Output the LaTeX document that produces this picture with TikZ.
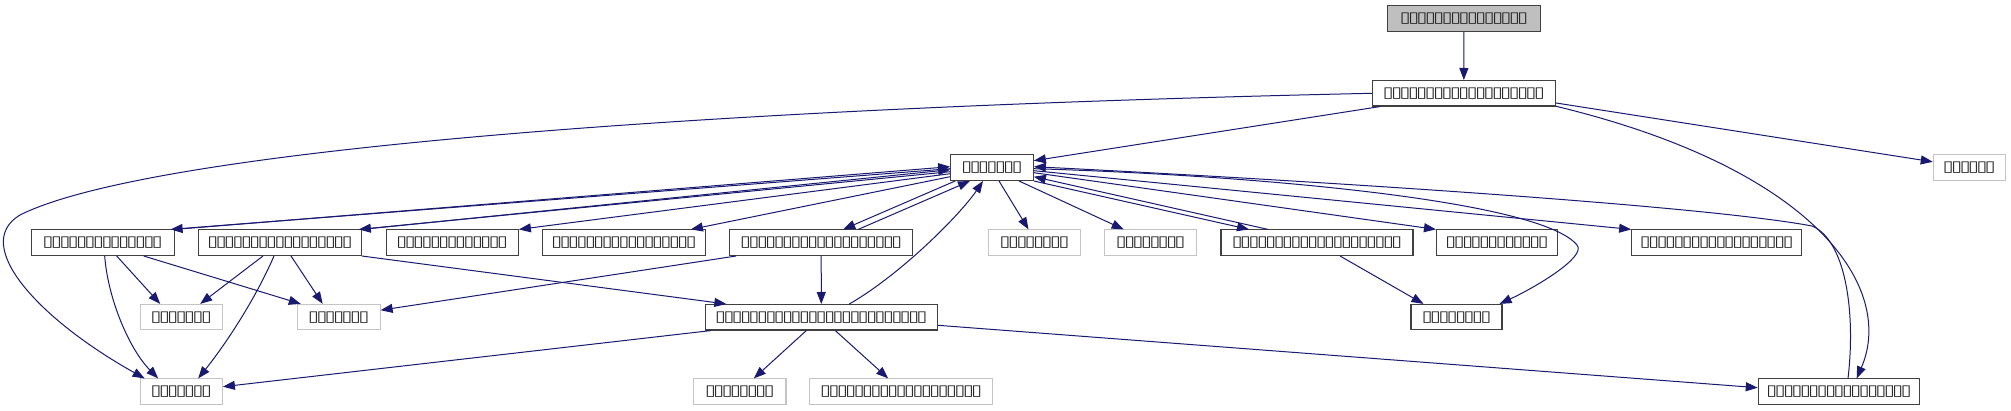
\documentclass[tikz,border=0pt]{standalone}
\usepackage{fontspec}
\usetikzlibrary{arrows.meta}
\newfontfamily\tofufont{DejaVu Sans}
\definecolor{edgecol}{HTML}{191970}
\definecolor{gryfill}{HTML}{BFBFBF}
\definecolor{gryline}{HTML}{C4C4C4}
\definecolor{boxline}{HTML}{404040}
\catcode`\▯=\active
\def▯{\makebox[8.4pt]{\scalebox{1.3}[1]{\tofufont\fontsize{15pt}{15pt}\selectfont\char"25AF}}}
\tikzset{
  nb/.style={draw=boxline, line width=1.1pt, fill=white, rectangle, minimum height=25.5pt, inner sep=0pt, text=black!85},
  ng/.style={nb, draw=gryline},
  edge/.style={draw=edgecol, line width=1pt, -{Triangle[length=12pt,width=9pt]}},
}
\begin{document}
\begin{tikzpicture}[x=1pt,y=-1pt]
\useasboundingbox (0,0) rectangle (2011,411);
% nodes
\node[nb, fill=gryfill, minimum width=152.6pt] (top) at (1464,18.5) {▯▯▯▯▯▯▯▯▯▯▯▯▯▯▯};
\node[nb, minimum width=183pt] (N2) at (1463.8,93.3) {▯▯▯▯▯▯▯▯▯▯▯▯▯▯▯▯▯▯▯};
\node[nb, minimum width=82.6pt] (hub) at (992,167.7) {▯▯▯▯▯▯▯};
\node[ng, minimum width=72pt] (R1) at (1969.3,167.6) {▯▯▯▯▯▯};
\node[nb, minimum width=142.7pt] (A) at (102.7,242.7) {▯▯▯▯▯▯▯▯▯▯▯▯▯▯};
\node[nb, minimum width=162.6pt] (B) at (280,242.7) {▯▯▯▯▯▯▯▯▯▯▯▯▯▯▯▯▯};
\node[nb, minimum width=132.3pt] (C) at (452.2,242.7) {▯▯▯▯▯▯▯▯▯▯▯▯▯};
\node[nb, minimum width=162.6pt] (D) at (624,242.7) {▯▯▯▯▯▯▯▯▯▯▯▯▯▯▯▯▯};
\node[nb, minimum width=183pt] (E) at (821.2,242.7) {▯▯▯▯▯▯▯▯▯▯▯▯▯▯▯▯▯▯▯};
\node[ng, minimum width=92pt] (F) at (1034.5,242.7) {▯▯▯▯▯▯▯▯};
\node[ng, minimum width=92pt] (G) at (1150.7,242.7) {▯▯▯▯▯▯▯▯};
\node[nb, minimum width=192pt] (H) at (1317,242.7) {▯▯▯▯▯▯▯▯▯▯▯▯▯▯▯▯▯▯▯▯};
\node[nb, minimum width=121pt] (J) at (1497,242.7) {▯▯▯▯▯▯▯▯▯▯▯▯};
\node[nb, minimum width=170pt] (I) at (1716.7,242.7) {▯▯▯▯▯▯▯▯▯▯▯▯▯▯▯▯▯▯};
\node[ng, minimum width=82.3pt] (G3L) at (181.2,317.2) {▯▯▯▯▯▯▯};
\node[ng, minimum width=82.7pt] (G3R) at (338.7,317.2) {▯▯▯▯▯▯▯};
\node[nb, minimum width=232pt] (M) at (821.3,317.3) {▯▯▯▯▯▯▯▯▯▯▯▯▯▯▯▯▯▯▯▯▯▯▯▯▯};
\node[nb, minimum width=91pt] (K) at (1456.5,317.2) {▯▯▯▯▯▯▯▯};
\node[ng, minimum width=82.3pt] (G4L) at (181.2,391.7) {▯▯▯▯▯▯▯};
\node[ng, minimum width=92.3pt] (G4a) at (739.8,391.7) {▯▯▯▯▯▯▯▯};
\node[ng, minimum width=183pt] (G4b) at (901.2,391.7) {▯▯▯▯▯▯▯▯▯▯▯▯▯▯▯▯▯▯▯};
\node[nb, minimum width=161.4pt] (L) at (1839,391.7) {▯▯▯▯▯▯▯▯▯▯▯▯▯▯▯▯▯};
% edges
\draw[edge] (top) -- (N2);
\draw[edge] (N2.west) .. controls (700,108) and (150,150) .. (20,215) .. controls (-30,245) and (40,320) .. (G4L.160);
\draw[edge] (N2.189) -- ([yshift=7pt]hub.east);
\draw[edge] (N2.-6) -- (R1.171);
\draw[edge] (N2.-8) .. controls (1820,170) and (1895,290) .. (L.37);
\draw[edge] ([xshift=9pt]L.north) .. controls (1856,310) and (1845,240) .. (1812,226) .. controls (1700,205) and (1300,180) .. ([yshift=1pt]hub.east);
\draw[edge] (A.north east) -- ([yshift=1pt]hub.west);
\draw[edge] ([yshift=-1pt]hub.west) -- ([xshift=-4pt]A.north east);
\draw[edge] (B.north east) -- ([yshift=-2pt]hub.west);
\draw[edge] ([yshift=-4pt]hub.west) -- ([xshift=-3pt]B.north east);
\draw[edge] ([yshift=-6pt]hub.west) -- (C.north east);
\draw[edge] ([yshift=-9pt]hub.west) -- ([xshift=-15pt]D.north east);
\draw[edge] ([xshift=5pt]hub.south west) -- ([xshift=22pt]E.north);
\draw[edge] ([xshift=37pt]E.north) -- ([xshift=-22pt]hub.south);
\draw[edge] ([xshift=28pt]M.north) .. controls (900,275) and (960,215) .. ([xshift=-9pt]hub.south);
\draw[edge] ([xshift=7pt]hub.south) -- ([xshift=-6pt]F.north);
\draw[edge] ([xshift=27pt]hub.south) -- ([xshift=-27pt]G.north);
\draw[edge] (hub.south east) -- ([xshift=-68pt]H.north);
\draw[edge] ([xshift=-49pt]H.north) -- ([yshift=-9pt]hub.east);
\draw[edge] ([yshift=-5pt]hub.east) -- (J.north west);
\draw[edge] ([yshift=-3pt]hub.east) -- (I.north west);
\draw[edge] ([yshift=-1pt]hub.east) .. controls (1250,175) and (1540,200) .. (1577,245) .. controls (1587,257) and (1534,288) .. ([xshift=-3pt]K.north east);
\draw[edge] ([xshift=23pt]H.south) -- ([xshift=-33pt]K.north);
\draw[edge] (E) -- (M);
\draw[edge] ([yshift=-8pt]M.east) -- ([yshift=4pt]L.west);
\draw[edge] ([xshift=6pt]M.south west) -- ([yshift=5pt]G4L.east);
\draw[edge] ([xshift=-15pt]M.south) -- ([xshift=14pt]G4a.north);
\draw[edge] ([xshift=14pt]M.south) -- ([xshift=-13pt]G4b.north);
\draw[edge] ([xshift=7pt]E.south west) -- ([yshift=7pt]G3R.east);
\draw[edge] (B.south east) -- ([xshift=-95pt]M.north);
\draw[edge] ([xshift=-17pt]B.south) -- ([xshift=19pt]G3L.north);
\draw[edge] ([xshift=-6pt]B.south) .. controls (255,300) and (225,345) .. ([xshift=17pt]G4L.north);
\draw[edge] ([xshift=11pt]B.south) -- ([xshift=-16pt]G3R.north);
\draw[edge] ([xshift=2pt]A.south) .. controls (108,300) and (130,350) .. ([xshift=-23pt]G4L.north);
\draw[edge] ([xshift=14pt]A.south) -- ([xshift=-21pt]G3L.north);
\draw[edge] ([xshift=41pt]A.south) -- ([xshift=4pt]G3R.north west);
\end{tikzpicture}
\end{document}
